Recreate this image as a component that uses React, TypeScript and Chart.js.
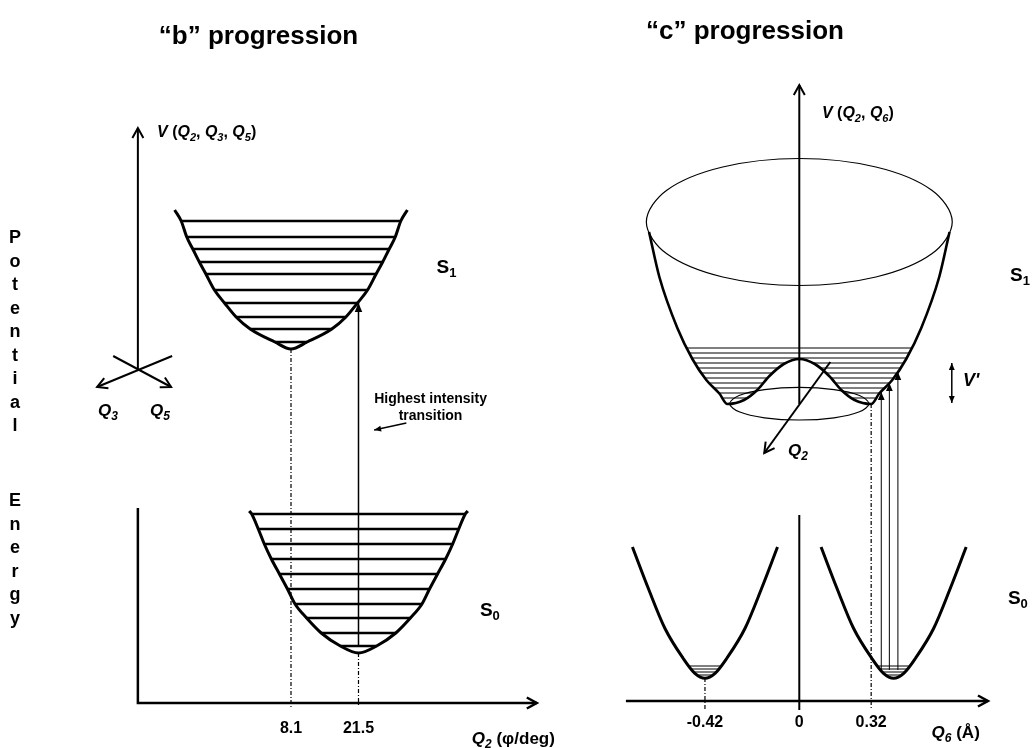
import { useEffect, useRef } from "react";
import { Chart, registerables } from "chart.js";

Chart.register(...registerables);

const FAMILY = '"Liberation Sans", Arial, Helvetica, sans-serif';

// Energy is in arbitrary units (0 at the foot of the figure, 748 at its top).
// "b" progression: abscissa Q2 = torsion angle φ in degrees (scale "x").
// "c" progression: abscissa Q6 in Å (scale "xR").

// ---------- "b" progression ----------
// S1 well: vibrational levels (energy, left / right turning points)
const bS1LevelE = [527, 511, 499, 486, 474, 458, 445, 431, 419, 406];
const bS1LevelL = [-13.7, -12.6, -11.4, -10.1, -8.8, -7.1, -5.1, -2.8, 0.0, 4.9];
const bS1LevelR = [29.9, 28.8, 27.6, 26.3, 25.0, 23.3, 21.3, 19.0, 16.2, 11.3];
const bS1Rim = [-15.0, 31.2];
const bS1RimE = 538;
const bS1Min = 8.1;
const bS1MinE = 399;

// S0 well
const bS0LevelE = [234, 219, 204, 189, 174, 159, 144, 130, 115, 102];
const bS0LevelL = [0.3, 1.6, 2.8, 4.2, 5.8, 7.4, 8.9, 11.2, 14.1, 17.9];
const bS0LevelR = [42.7, 41.4, 40.2, 38.8, 37.2, 35.6, 34.1, 31.8, 28.9, 25.1];
const bS0Rim = [-0.2, 43.2];
const bS0RimE = 237;
const bS0Min = 21.5;
const bS0MinE = 95;

const bTicks = [8.1, 21.5];
const bTransitionE = [102, 445];

// ---------- "c" progression ----------
// S1 cross-section along Q6 (double well under the central barrier)
const cS1X = [-0.669, -0.623, -0.543, -0.476, -0.414, -0.356, -0.32, -0.246, -0.187, -0.133, -0.069, 0,
  0.069, 0.133, 0.187, 0.246, 0.32, 0.356, 0.414, 0.476, 0.543, 0.623, 0.669];
const cS1E = [516, 471, 420, 389, 368, 354.5, 344, 348, 358, 372, 384, 389,
  384, 372, 358, 348, 344, 354.5, 368, 389, 420, 471, 516];

// rim of the S1 surface and the ring of minima
const cRimX = [0.681, 0.59, 0.341, 0, -0.341, -0.59, -0.681, -0.59, -0.341, 0, 0.341, 0.59];
const cRimE = [526, 557.8, 581, 589.5, 581, 557.8, 526, 494.2, 471, 462.5, 471, 494.2];
const cRingX = [0.31, 0.268, 0.155, 0, -0.155, -0.268, -0.31, -0.268, -0.155, 0, 0.155, 0.268];
const cRingE = [344.3, 352.5, 358.4, 360.6, 358.4, 352.5, 344.3, 336.2, 330.2, 328, 330.2, 336.2];

// S1 levels: outer wall and barrier crossing points
const cBowlE = [400, 395, 390, 385, 380, 375, 370, 365, 360, 355, 350];
const cBowlWall = [0.5, 0.489, 0.478, 0.464, 0.449, 0.434, 0.419, 0.4, 0.378, 0.357, 0.339];
const cBowlHump = [0, 0, 0, 0.059, 0.092, 0.119, 0.142, 0.161, 0.181, 0.207, 0.236];

// S0 wells
const cS0LeftX = [-0.743, -0.672, -0.598, -0.518, -0.465, -0.42, -0.375, -0.322, -0.242, -0.168, -0.097];
const cS0RightX = [0.097, 0.168, 0.242, 0.322, 0.375, 0.42, 0.465, 0.518, 0.598, 0.672, 0.743];
const cS0E = [201, 159.5, 119.5, 90, 74.7, 69.7, 74.7, 90, 119.5, 159.5, 201];
const cS0LevelE = [82, 79, 76, 73];
const cS0LeftLevelL = [-0.488, -0.478, -0.467, -0.45];
const cS0LeftLevelR = [-0.352, -0.362, -0.373, -0.39];
const cS0RightLevelL = [0.352, 0.362, 0.373, 0.39];
const cS0RightLevelR = [0.488, 0.478, 0.467, 0.45];

const cTicks = [-0.42, 0, 0.32];
const cTransX = [0.365, 0.401, 0.439];
const cTransTopE = [356, 365, 376];
const cTransBaseE = 78;

type Pt = { x: number; y: number | null };

const pts = (xs: number[], es: number[]): Pt[] => xs.map((x, i) => ({ x, y: es[i] }));

const levelData = (l: number[], r: number[], e: number[]): Pt[] =>
  e.flatMap((v, i) => [{ x: l[i], y: v }, { x: r[i], y: v }, { x: r[i], y: null }]);

const wellData = (rim: number[], rimE: number, l: number[], r: number[], e: number[], mx: number, me: number): Pt[] => [
  { x: rim[0], y: rimE },
  ...pts(l, e),
  { x: mx, y: me },
  ...pts(r, e).reverse(),
  { x: rim[1], y: rimE },
];

const loopData = (xs: number[], es: number[]): Pt[] => {
  const n = xs.length;
  return [{ x: xs[n - 1], y: es[n - 1] }, ...pts(xs, es), { x: xs[0], y: es[0] }, { x: xs[1], y: es[1] }];
};

function line(axis: string, data: Pt[], width: number, extra: any = {}) {
  return {
    xAxisID: axis,
    yAxisID: "y",
    data,
    showLine: true,
    borderColor: "#000",
    borderWidth: width,
    pointRadius: 0,
    pointHoverRadius: 0,
    tension: 0,
    fill: false,
    ...extra,
  };
}

function loop(axis: string, xs: number[], es: number[], width: number) {
  const data = loopData(xs, es);
  const n = data.length;
  return line(axis, data, width, {
    tension: 0.35,
    segment: {
      borderColor: (c: any) => (c.p0DataIndex === 0 || c.p1DataIndex === n - 1 ? "rgba(0,0,0,0)" : undefined),
    },
  });
}

const SMOOTH = { cubicInterpolationMode: "monotone" };
const DOTTED = { borderDash: [4, 2, 1, 2] };

function buildDatasets() {
  const ds: any[] = [];
  // "b": S1 and S0 wells with their levels
  ds.push(line("x", wellData(bS1Rim, bS1RimE, bS1LevelL, bS1LevelR, bS1LevelE, bS1Min, bS1MinE), 3, SMOOTH));
  ds.push(line("x", levelData(bS1LevelL, bS1LevelR, bS1LevelE), 2.5));
  ds.push(line("x", wellData(bS0Rim, bS0RimE, bS0LevelL, bS0LevelR, bS0LevelE, bS0Min, bS0MinE), 3, SMOOTH));
  ds.push(line("x", levelData(bS0LevelL, bS0LevelR, bS0LevelE), 2.5));
  // "b": axes
  ds.push(line("x", [{ x: -22.3, y: 378 }, { x: -22.3, y: 620 }], 2, { arrowEnd: "open" }));
  ds.push(line("x", [{ x: -15.5, y: 392 }, { x: -30.4, y: 361 }], 2, { arrowEnd: "open" }));
  ds.push(line("x", [{ x: -27.2, y: 392 }, { x: -15.7, y: 361 }], 2, { arrowEnd: "open" }));
  ds.push(line("x", [{ x: -22.3, y: 240 }, { x: -22.3, y: 45 }, { x: 56.9, y: 45 }], 2.5, { arrowEnd: "open" }));
  // "b": guides at the two minima and the strongest transition
  ds.push(line("x", [{ x: bTicks[0], y: bS1MinE }, { x: bTicks[0], y: 41 }], 1.2, DOTTED));
  ds.push(line("x", [{ x: bTicks[1], y: bS0MinE }, { x: bTicks[1], y: 41 }], 1.2, DOTTED));
  ds.push(line("x", [{ x: bTicks[1], y: bTransitionE[0] }, { x: bTicks[1], y: bTransitionE[1] }], 1.5, { arrowEnd: "filled" }));
  ds.push(line("x", [{ x: 31.0, y: 325 }, { x: 24.6, y: 318 }], 1.3, { arrowEnd: "filled", headSize: 7 }));

  // "c": S1 surface
  ds.push(line("xR", pts(cS1X, cS1E), 2.6, SMOOTH));
  ds.push(loop("xR", cRimX, cRimE, 1.2));
  ds.push(loop("xR", cRingX, cRingE, 1.2));
  const bowl: Pt[] = cBowlE.flatMap((e, i) => [
    { x: -cBowlWall[i], y: e }, { x: -cBowlHump[i], y: e }, { x: -cBowlHump[i], y: null },
    { x: cBowlHump[i], y: e }, { x: cBowlWall[i], y: e }, { x: cBowlWall[i], y: null },
  ]);
  ds.push(line("xR", bowl, 1));
  ds.push(line("xR", [{ x: 0, y: 344 }, { x: 0, y: 663 }], 2, { arrowEnd: "open" }));
  ds.push(line("xR", [{ x: 0.138, y: 386 }, { x: -0.156, y: 295 }], 2, { arrowEnd: "open" }));
  ds.push(line("xR", [{ x: 0.679, y: 345 }, { x: 0.679, y: 385 }], 1.5, { arrowEnd: "filled", arrowStart: "filled", headSize: 7 }));
  // "c": S0 wells
  ds.push(line("xR", pts(cS0LeftX, cS0E), 3, SMOOTH));
  ds.push(line("xR", pts(cS0RightX, cS0E), 3, SMOOTH));
  ds.push(line("xR", levelData(cS0LeftLevelL, cS0LeftLevelR, cS0LevelE), 1));
  ds.push(line("xR", levelData(cS0RightLevelL, cS0RightLevelR, cS0LevelE), 1));
  // "c": axes and guides
  ds.push(line("xR", [{ x: 0, y: 233 }, { x: 0, y: 38 }], 2));
  ds.push(line("xR", [{ x: -0.772, y: 47 }, { x: 0.84, y: 47 }], 2.5, { arrowEnd: "open" }));
  ds.push(line("xR", [{ x: cTicks[0], y: 70 }, { x: cTicks[0], y: 38 }], 1.2, DOTTED));
  ds.push(line("xR", [{ x: cTicks[2], y: 344 }, { x: cTicks[2], y: 38 }], 1.2, DOTTED));
  cTransX.forEach((x, i) => {
    ds.push(line("xR", [{ x, y: cTransBaseE }, { x, y: cTransTopE[i] }], 1, { arrowEnd: "filled", headSize: 8 }));
  });
  return ds;
}

type Label = { axis: string; x: number; y: number; size: number; align: "left" | "center"; text: string };

// "{...}" marks italic, "_c" a subscript character
const labels: Label[] = [
  { axis: "x", x: 1.65, y: 704, size: 26, align: "center", text: "“b” progression" },
  { axis: "xR", x: -0.242, y: 709, size: 26, align: "center", text: "“c” progression" },
  { axis: "x", x: -18.5, y: 611, size: 16, align: "left", text: "{V} ({Q_2}, {Q_3}, {Q_5})" },
  { axis: "x", x: -30.2, y: 332, size: 17, align: "left", text: "{Q_3}" },
  { axis: "x", x: -19.9, y: 332, size: 17, align: "left", text: "{Q_5}" },
  { axis: "x", x: 37.0, y: 475, size: 19, align: "left", text: "S_1" },
  { axis: "x", x: 45.6, y: 132, size: 19, align: "left", text: "S_0" },
  { axis: "x", x: 35.8, y: 345, size: 14, align: "center", text: "Highest intensity" },
  { axis: "x", x: 35.8, y: 328, size: 14, align: "center", text: "transition" },
  { axis: "x", x: bTicks[0], y: 15, size: 16, align: "center", text: String(bTicks[0]) },
  { axis: "x", x: bTicks[1], y: 15, size: 16, align: "center", text: String(bTicks[1]) },
  { axis: "x", x: 44.0, y: 4, size: 17, align: "left", text: "{Q_2} (φ/deg)" },
  { axis: "xR", x: 0.101, y: 630, size: 16, align: "left", text: "{V} ({Q_2}, {Q_6})" },
  { axis: "xR", x: -0.05, y: 292, size: 17, align: "left", text: "{Q_2}" },
  { axis: "xR", x: 0.729, y: 362, size: 18, align: "left", text: "{V'}" },
  { axis: "xR", x: 0.938, y: 467, size: 19, align: "left", text: "S_1" },
  { axis: "xR", x: 0.929, y: 144, size: 19, align: "left", text: "S_0" },
  ...cTicks.map((t) => ({ axis: "xR", x: t, y: 21, size: 16, align: "center" as const, text: String(t) })),
  { axis: "xR", x: 0.589, y: 10, size: 17, align: "left", text: "{Q_6} (Å)" },
  ...Array.from("Potential").map((c, i) => ({ axis: "x", x: -46.7, y: 505 - i * 23.5, size: 18, align: "center" as const, text: c })),
  ...Array.from("Energy").map((c, i) => ({ axis: "x", x: -46.7, y: 242 - i * 23.5, size: 18, align: "center" as const, text: c })),
];

type Run = { t: string; it: boolean; sub: boolean };

function parseRich(src: string): Run[] {
  const runs: Run[] = [];
  let it = false;
  for (let i = 0; i < src.length; i++) {
    let c = src[i];
    if (c === "{") { it = true; continue; }
    if (c === "}") { it = false; continue; }
    let sub = false;
    if (c === "_" && i + 1 < src.length) { sub = true; c = src[++i]; }
    const last = runs[runs.length - 1];
    if (last && last.it === it && last.sub === sub) last.t += c;
    else runs.push({ t: c, it, sub });
  }
  return runs;
}

const runFont = (r: Run, size: number) =>
  `${r.it ? "italic " : ""}bold ${r.sub ? Math.round(size * 0.68) : size}px ${FAMILY}`;

function drawRich(ctx: CanvasRenderingContext2D, text: string, x: number, y: number, size: number, align: string) {
  const runs = parseRich(text);
  const widths = runs.map((r) => { ctx.font = runFont(r, size); return ctx.measureText(r.t).width; });
  const total = widths.reduce((a, b) => a + b, 0);
  let cx = align === "center" ? x - total / 2 : x;
  runs.forEach((r, i) => {
    ctx.font = runFont(r, size);
    ctx.fillText(r.t, cx, y + (r.sub ? size * 0.22 : 0));
    cx += widths[i];
  });
}

function drawHead(ctx: CanvasRenderingContext2D, from: any, tip: any, kind: string, lw: number, size?: number) {
  const a = Math.atan2(tip.y - from.y, tip.x - from.x);
  const len = size ?? (kind === "open" ? 10 : 9);
  const half = kind === "open" ? len * 0.55 : len * 0.42;
  const bx = tip.x - len * Math.cos(a);
  const by = tip.y - len * Math.sin(a);
  const nx = -Math.sin(a) * half;
  const ny = Math.cos(a) * half;
  ctx.save();
  ctx.strokeStyle = "#000";
  ctx.fillStyle = "#000";
  ctx.lineWidth = lw;
  ctx.beginPath();
  ctx.moveTo(bx + nx, by + ny);
  ctx.lineTo(tip.x, tip.y);
  ctx.lineTo(bx - nx, by - ny);
  if (kind === "open") ctx.stroke();
  else { ctx.closePath(); ctx.fill(); }
  ctx.restore();
}

const arrowPlugin = {
  id: "arrowHeads",
  afterDatasetsDraw(chart: any) {
    const ctx = chart.ctx;
    chart.data.datasets.forEach((ds: any, i: number) => {
      const p = chart.getDatasetMeta(i).data;
      if (p.length < 2) return;
      if (ds.arrowEnd) drawHead(ctx, p[p.length - 2], p[p.length - 1], ds.arrowEnd, ds.borderWidth, ds.headSize);
      if (ds.arrowStart) drawHead(ctx, p[1], p[0], ds.arrowStart, ds.borderWidth, ds.headSize);
    });
  },
};

const labelPlugin = {
  id: "diagramLabels",
  afterDraw(chart: any) {
    const ctx: CanvasRenderingContext2D = chart.ctx;
    ctx.save();
    ctx.fillStyle = "#000";
    ctx.textAlign = "left";
    ctx.textBaseline = "alphabetic";
    labels.forEach((l) => {
      const x = chart.scales[l.axis].getPixelForValue(l.x);
      const y = chart.scales.y.getPixelForValue(l.y);
      drawRich(ctx, l.text, x, y, l.size, l.align);
    });
    ctx.restore();
  },
};

export default function App() {
  const ref = useRef<HTMLCanvasElement | null>(null);

  useEffect(() => {
    if (!ref.current) return;
    const chart = new Chart(ref.current, {
      type: "scatter",
      data: { datasets: buildDatasets() },
      options: {
        animation: false,
        responsive: false,
        devicePixelRatio: 1,
        events: [],
        layout: { padding: 0 },
        plugins: { legend: { display: false }, tooltip: { enabled: false }, title: { display: false } },
        scales: {
          x: { type: "linear", min: -49.673, max: 155.212, display: false },
          xR: { type: "linear", min: -3.5588, max: 1.0361, display: false },
          y: { type: "linear", min: 0, max: 748, display: false },
        },
      } as any,
      plugins: [arrowPlugin, labelPlugin],
    });
    return () => chart.destroy();
  }, []);

  return (
    <div style={{ position: "fixed", left: 0, top: 0, width: 1032, height: 748, background: "#fff" }}>
      <canvas ref={ref} width={1032} height={748} style={{ display: "block" }} />
    </div>
  );
}
